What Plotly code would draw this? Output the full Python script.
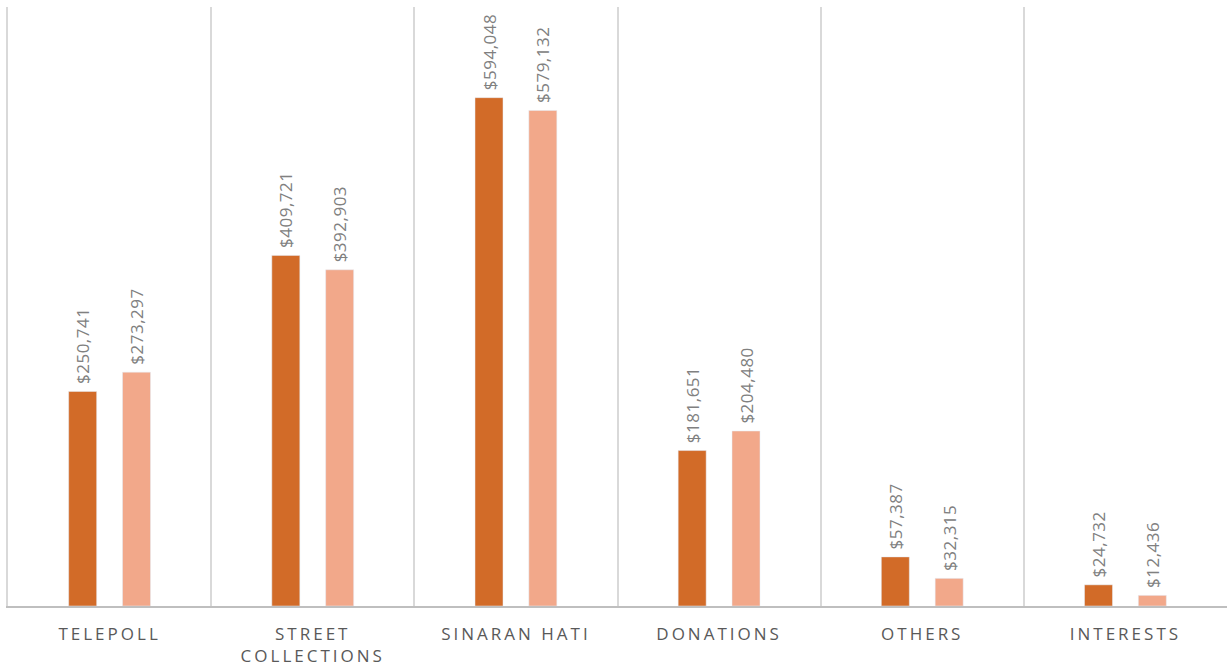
import plotly.graph_objects as go

categories = ["TELEPOLL", "STREET<br>COLLECTIONS", "SINARAN HATI", "DONATIONS", "OTHERS", "INTERESTS"]
series_a = [250741, 409721, 594048, 181651, 57387, 24732]
series_b = [273297, 392903, 579132, 204480, 32315, 12436]
name_a = "Series 1"
name_b = "Series 2"

DARK = "#D26B28"
LIGHT = "#F2A88A"
LABEL_GREY = "#808080"
TICK_GREY = "#595959"

def fmt(v):
    return '&nbsp;<span style="letter-spacing:0.5px">${:,}</span>'.format(v)

tick_text = ['<span style="letter-spacing:3px">' + c.replace("<br>", '</span><br><span style="letter-spacing:3px">') + '</span>' for c in categories]

fig = go.Figure()
for vals, nm, col in [(series_a, name_a, DARK), (series_b, name_b, LIGHT)]:
    fig.add_trace(go.Bar(
        x=categories, y=vals, name=nm, marker_color=col,
        text=[fmt(v) for v in vals], textposition="outside", textangle=-90,
        constraintext="none",
        textfont=dict(family="Open Sans", size=17, color=LABEL_GREY), cliponaxis=False,
    ))

fig.update_layout(
    width=1227, height=667,
    margin=dict(l=8, r=0, t=7, b=61),
    paper_bgcolor="white", plot_bgcolor="white",
    barmode="group", bargap=0.47, bargroupgap=0.48,
    showlegend=False,
    xaxis=dict(
        tickson="boundaries", showgrid=True, gridcolor="#D9D9D9", gridwidth=1.5,
        showline=True, linecolor="#BFBFBF", linewidth=1.5,
        ticks="", tickmode="array", tickvals=categories, ticktext=tick_text,
        tickfont=dict(family="Open Sans", size=17, color=TICK_GREY),
        ticklabelstandoff=12,
    ),
    yaxis=dict(range=[0, 700000], showticklabels=False, showgrid=False, zeroline=False,
               ticks="", showline=True, linecolor="#D9D9D9", linewidth=1.5),
)

fig.write_html("out.html", config={"displayModeBar": False},
               post_script="document.body.style.margin='0';document.body.style.overflow='hidden';")
